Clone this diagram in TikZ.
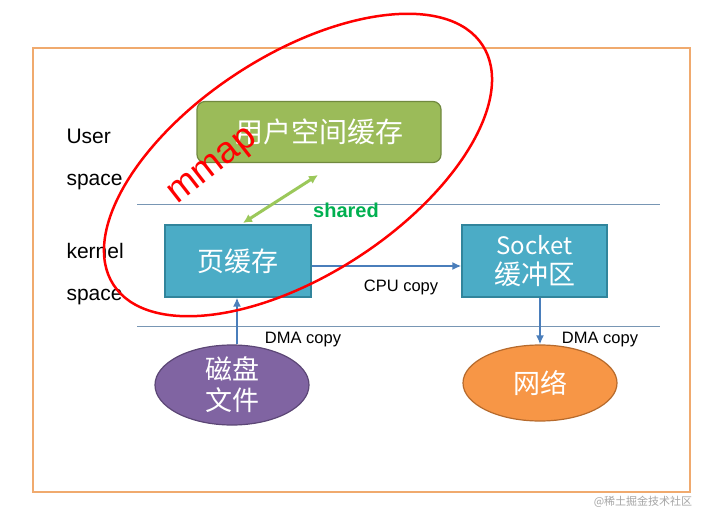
\documentclass[tikz,border=0pt]{standalone}
\usepackage{fontspec}
\setmainfont{Liberation Sans}
\newfontfamily\cjk{Noto Sans CJK SC}
\usetikzlibrary{arrows.meta,shapes.geometric}
\definecolor{frameor}{RGB}{240,170,110}
\definecolor{olive}{RGB}{155,187,89}
\definecolor{oliveb}{RGB}{113,137,63}
\definecolor{aqua}{RGB}{75,172,198}
\definecolor{aquab}{RGB}{49,133,156}
\definecolor{purp}{RGB}{128,100,162}
\definecolor{purpb}{RGB}{92,71,118}
\definecolor{orng}{RGB}{247,150,70}
\definecolor{orngb}{RGB}{182,106,44}
\definecolor{arrb}{RGB}{74,126,187}
\definecolor{lgreen}{RGB}{155,200,90}
\definecolor{sgreen}{RGB}{0,176,80}
\definecolor{linec}{RGB}{120,150,180}
\begin{document}
\begin{tikzpicture}[x=1pt,y=-1pt,
  boxst/.style={draw=aquab,line width=1.2pt,fill=aqua,text=white,font=\cjk\fontsize{27}{30}\selectfont,inner sep=0pt,align=center},
  lbl/.style={font=\fontsize{21}{42}\selectfont,align=left,anchor=north west},
  small/.style={font=\fontsize{16.5}{19}\selectfont},
  arr/.style={-{Latex[length=9pt,width=8pt]},draw=arrb,line width=2pt}]
\useasboundingbox (0,0) rectangle (728,516);
\fill[white] (0,0) rectangle (728,516);
\draw[frameor,line width=2pt] (33,48) rectangle (690,492);
\draw[linec,line width=0.6pt] (137,204) -- (660,204);
\draw[linec,line width=0.6pt] (137,326) -- (660,326);
\node[lbl] (us) at (63,126) {User\\space};
\node[lbl] (ks) at (63,240) {kernel\\space};
\node[draw=oliveb,line width=1.2pt,fill=olive,rounded corners=8pt,minimum width=244pt,minimum height=61pt,text=white,font=\cjk\fontsize{28}{30}\selectfont] (user) at (319,132) {用户空间缓存};
\node[boxst,minimum width=146pt,minimum height=72pt] (page) at (238,261) {页缓存};
\node[boxst,minimum width=145pt,minimum height=72pt] (sock) at (534.5,261) {{\fontsize{24}{26}\selectfont Socket}\\缓冲区};
\node[ellipse,draw=purpb,line width=1.2pt,fill=purp,text=white,minimum width=154pt,minimum height=80pt,inner sep=0pt,align=center,font=\cjk\fontsize{27}{31}\selectfont] (disk) at (232,385) {磁盘\\文件};
\node[ellipse,draw=orngb,line width=1.2pt,fill=orng,text=white,minimum width=154pt,minimum height=76pt,inner sep=0pt,font=\cjk\fontsize{27}{30}\selectfont] (net) at (540,383) {网络};
\draw[arr] (page.east |- 0,266) -- (sock.west |- 0,266);
\node[small] (cpu) at (401,287) {CPU copy};
\draw[arr] (disk.north -| 237,0) -- (page.south -| 237,0);
\node[small] (dma1) at (303,340) {DMA copy};
\draw[arr] (sock.south -| 540,0) -- (net.north -| 540,0);
\node[small] (dma2) at (600,340) {DMA copy};
\coordinate (sa) at (243,223);
\coordinate (sb) at (318,175);
\draw[{Latex[length=9pt,width=9pt]}-{Latex[length=9pt,width=9pt]},lgreen,line width=3pt] (sa) -- (sb);
\node[text=sgreen,font=\bfseries\fontsize{20}{22}\selectfont] (sh) at (346,210) {shared};
\draw[red,line width=2.5pt,rotate around={33:(298,165)}] (298,165) ellipse (220pt and 110pt);
\node[red,rotate=38,font=\fontsize{37}{40}\selectfont] (mm) at (214,168) {mmap};
\node[gray!70,font=\cjk\fontsize{11}{13}\selectfont] (wm) at (643,502) {@稀土掘金技术社区};
\end{tikzpicture}
\end{document}
